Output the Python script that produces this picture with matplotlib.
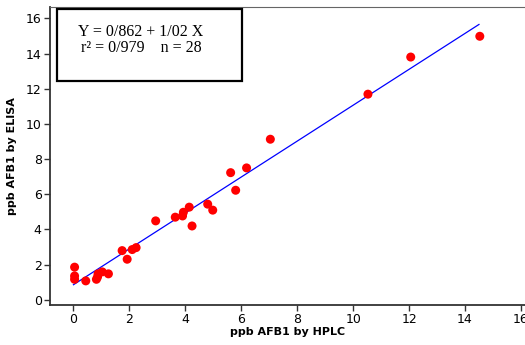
import matplotlib
matplotlib.use("Agg")
import matplotlib.pyplot as plt

# HPLC vs ELISA readings (ppb AFB1)
hplc = [0.04, 0.04, 0.04, 0.44, 0.82, 0.86, 0.88, 1.03, 1.25, 1.74,
        1.92, 2.10, 2.24, 2.94, 3.64, 3.90, 3.93, 4.14, 4.24, 4.80,
        4.98, 5.62, 5.80, 6.19, 7.04, 10.53, 12.06, 14.53]
elisa = [1.86, 1.36, 1.17, 1.08, 1.17, 1.30, 1.48, 1.59, 1.48, 2.80,
         2.31, 2.86, 2.97, 4.49, 4.70, 4.77, 4.98, 5.27, 4.20, 5.44,
         5.10, 7.23, 6.23, 7.50, 9.13, 11.69, 13.80, 14.98]

# regression line from the box
intercept = 0.862
slope = 1.02
fit_x = [0, 14.5]
fit_y = [intercept + slope * v for v in fit_x]

xticks = [0, 2, 4, 6, 8, 10, 12, 14, 16]
yticks = [0, 2, 4, 6, 8, 10, 12, 14, 16]

fig = plt.figure(figsize=(5.25, 3.45), dpi=100)
ax = fig.add_axes([0.0952, 0.117, 0.905, 0.863])

ax.plot(fit_x, fit_y, color="#0000ff", lw=0.9, zorder=2)
ax.scatter(hplc, elisa, s=42, color="#ff0000", edgecolors="none", zorder=3)

ax.set_xlim(-0.84, 16.15)
ax.set_ylim(-0.27, 16.65)
ax.set_xticks(xticks)
ax.set_yticks(yticks)
ax.tick_params(axis="both", direction="out", length=4, width=1,
               color="#333333", labelsize=9, pad=2)

for side in ["left", "bottom"]:
    ax.spines[side].set_linewidth(1.3)
    ax.spines[side].set_color("#333333")
ax.spines["top"].set_linewidth(0.8)
ax.spines["top"].set_color("#666666")
ax.spines["right"].set_visible(False)

ax.set_xlabel("ppb AFB1 by HPLC", fontsize=8, fontweight="bold", labelpad=1)
ax.set_ylabel("ppb AFB1 by ELISA", fontsize=8, fontweight="bold", labelpad=6)

# equation box
box = plt.Rectangle((57 / 525, 1 - 81 / 345), 185 / 525, 72 / 345,
                    transform=fig.transFigure, fill=False,
                    edgecolor="black", lw=1.6)
fig.patches.append(box)
fig.text(141 / 525, 1 - 32 / 345, "Y = 0/862 + 1/02 X", family="Liberation Serif",
         fontsize=11.5, ha="center", va="center")
fig.text(141 / 525, 1 - 48 / 345, "r\u00b2 = 0/979    n = 28", family="Liberation Serif",
         fontsize=11.5, ha="center", va="center")

fig.savefig("out.png", dpi=100)
